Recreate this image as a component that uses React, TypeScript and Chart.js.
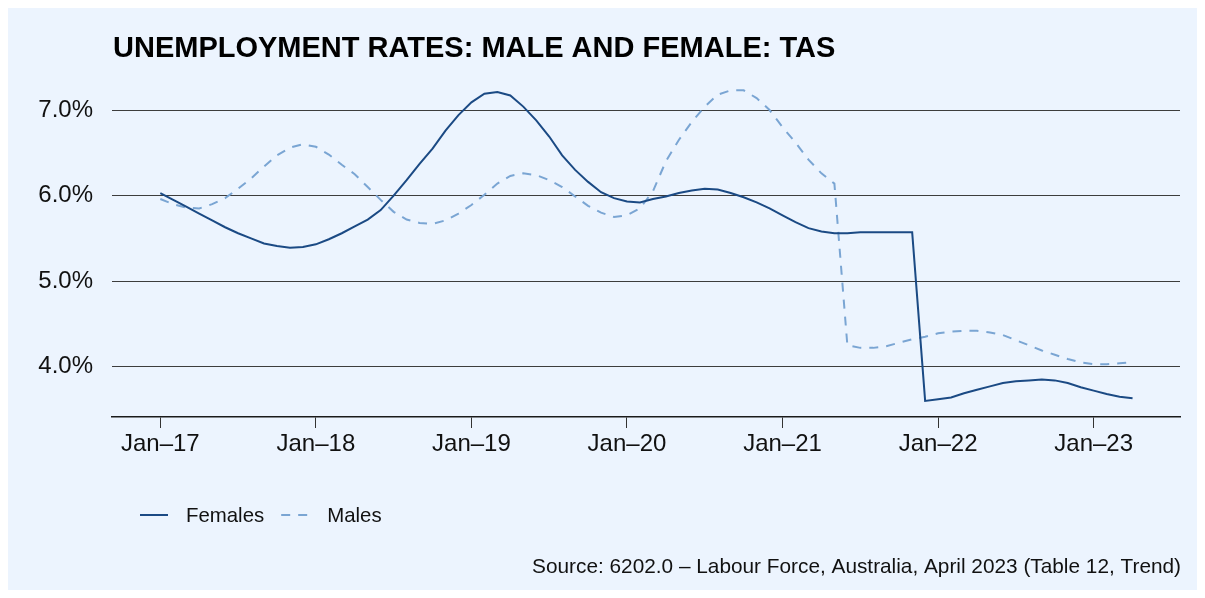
import React, { useEffect, useRef } from "react";
import { Chart, registerables } from "chart.js";

Chart.register(...registerables);

// Monthly series, Jan-2017 .. Apr-2023 (per cent)
const females = [
  6.03, 5.95, 5.87, 5.79, 5.71, 5.63, 5.56, 5.5, 5.44, 5.41,
  5.39, 5.4, 5.43, 5.49, 5.56, 5.64, 5.72, 5.83, 6.0, 6.18,
  6.37, 6.55, 6.76, 6.94, 7.09, 7.19, 7.21, 7.17, 7.04, 6.88,
  6.69, 6.47, 6.3, 6.16, 6.04, 5.97, 5.93, 5.92, 5.96, 5.99,
  6.03, 6.06, 6.08, 6.07, 6.03, 5.98, 5.92, 5.85, 5.77, 5.69,
  5.62, 5.58, 5.56, 5.56, 5.57, 5.57, 5.57, 5.57, 5.57, 3.6,
  3.62, 3.64, 3.69, 3.73, 3.77, 3.81, 3.83, 3.84, 3.85, 3.84,
  3.81, 3.76, 3.72, 3.68, 3.65, 3.63,
];

const males = [
  5.96, 5.9, 5.86, 5.85, 5.9, 5.97, 6.08, 6.2, 6.34, 6.47,
  6.56, 6.6, 6.57, 6.48, 6.36, 6.25, 6.1, 5.95, 5.81, 5.72,
  5.68, 5.67, 5.71, 5.79, 5.89, 6.01, 6.14, 6.23, 6.26, 6.24,
  6.18, 6.1, 5.99, 5.88, 5.8, 5.75, 5.77, 5.85, 6.05, 6.4,
  6.65, 6.86, 7.04, 7.18, 7.23, 7.23, 7.14, 7.0, 6.8, 6.62,
  6.42, 6.26, 6.14, 4.25, 4.22, 4.22, 4.24, 4.28, 4.32, 4.35,
  4.39, 4.41, 4.42, 4.42, 4.4, 4.37, 4.31, 4.25, 4.19, 4.14,
  4.09, 4.05, 4.03, 4.03, 4.04, 4.05,
];

const seriesNames = ["Females", "Males"];
const tickMonths = [0, 12, 24, 36, 48, 60, 72];
const tickLabels = ["Jan–17", "Jan–18", "Jan–19", "Jan–20", "Jan–21", "Jan–22", "Jan–23"];
const yTicks = [4, 5, 6, 7];
const titleText = "UNEMPLOYMENT RATES: MALE AND FEMALE: TAS";
const sourceText = "Source: 6202.0 – Labour Force, Australia, April 2023 (Table 12, Trend)";

const FONT = '"Liberation Sans", Arial, Helvetica, sans-serif';
const W = 1189;
const H = 582;

const overlayPlugin = {
  id: "overlay",
  afterDraw(chart: any) {
    const ctx = chart.ctx;
    const ca = chart.chartArea;
    ctx.save();
    // title
    ctx.fillStyle = "#000000";
    ctx.textAlign = "left";
    ctx.textBaseline = "alphabetic";
    ctx.font = `bold 29px ${FONT}`;
    ctx.fillText(titleText, ca.left + 1, 49);
    // legend
    const legY = 507;
    let x = 132;
    chart.data.datasets.forEach((ds: any) => {
      ctx.save();
      ctx.strokeStyle = ds.borderColor;
      ctx.lineWidth = 2;
      ctx.lineCap = "butt";
      ctx.setLineDash(ds.borderDash || []);
      ctx.beginPath();
      ctx.moveTo(x, legY);
      ctx.lineTo(x + 28, legY);
      ctx.stroke();
      ctx.restore();
      ctx.font = `20.4px ${FONT}`;
      ctx.fillStyle = "#111111";
      ctx.textBaseline = "alphabetic";
      ctx.fillText(ds.label, x + 46, legY + 7);
      x += 46 + ctx.measureText(ds.label).width + 17;
    });
    // source
    ctx.font = `20.8px ${FONT}`;
    ctx.textAlign = "right";
    ctx.fillStyle = "#111111";
    ctx.fillText(sourceText, ca.right + 1, 565);
    ctx.restore();
  },
};

export default function App() {
  const ref = useRef<HTMLCanvasElement | null>(null);

  useEffect(() => {
    if (!ref.current) return;
    const chart = new Chart(ref.current, {
      type: "line",
      data: {
        datasets: [
          {
            label: seriesNames[0],
            data: females.map((v, i) => ({ x: i, y: v })),
            borderColor: "#1b4a84",
            borderWidth: 2,
            pointRadius: 0,
            tension: 0,
            fill: false,
          },
          {
            label: seriesNames[1],
            data: males.map((v, i) => ({ x: i, y: v })),
            borderColor: "#7aa5d3",
            borderWidth: 2,
            borderDash: [9, 8],
            pointRadius: 0,
            tension: 0,
            fill: false,
          },
        ],
      },
      options: {
        responsive: false,
        animation: false,
        layout: { padding: { top: 72, bottom: 133, left: 0, right: 17 } },
        plugins: {
          legend: { display: false },
          title: { display: false },
          tooltip: { enabled: false },
        },
        scales: {
          x: {
            type: "linear",
            min: -3.726,
            max: 78.66,
            afterBuildTicks: (axis: any) => {
              axis.ticks = tickMonths.map((v) => ({ value: v }));
            },
            afterFit: (axis: any) => {
              axis.height = 40;
            },
            grid: {
              display: true,
              drawOnChartArea: false,
              drawTicks: true,
              tickLength: 11,
              color: "#333333",
              lineWidth: 1,
            },
            border: { display: true, color: "#1a1a1a", width: 1.5 },
            ticks: {
              autoSkip: false,
              maxRotation: 0,
              padding: 2,
              color: "#111111",
              font: { family: FONT, size: 24 },
              callback: (v: any) => {
                const i = tickMonths.indexOf(Number(v));
                return i >= 0 ? tickLabels[i] : "";
              },
            },
          },
          y: {
            type: "linear",
            min: 3.412,
            max: 7.351,
            afterBuildTicks: (axis: any) => {
              axis.ticks = yTicks.map((v) => ({ value: v }));
            },
            afterFit: (axis: any) => {
              axis.width = 104;
            },
            grid: {
              display: true,
              drawTicks: false,
              color: "#3d3d3d",
              lineWidth: 1,
            },
            border: { display: false },
            ticks: {
              padding: 19,
              color: "#111111",
              font: { family: FONT, size: 24 },
              callback: (v: any) => Number(v).toFixed(1) + "%",
            },
          },
        },
      },
      plugins: [overlayPlugin],
    });
    return () => chart.destroy();
  }, []);

  return (
    <div style={{ width: W, height: H, background: "#ecf4fe" }}>
      <canvas ref={ref} width={W} height={H} style={{ display: "block", width: W, height: H }} />
    </div>
  );
}
